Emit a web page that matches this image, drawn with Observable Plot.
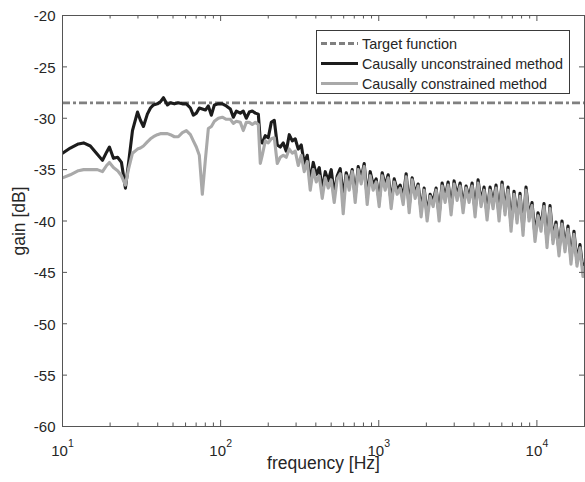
<!DOCTYPE html>
<html><head><meta charset="utf-8">
<script src="https://cdn.jsdelivr.net/npm/d3@7"></script>
<script src="https://cdn.jsdelivr.net/npm/@observablehq/plot@0.6"></script>
<style>
body{margin:0;background:#fff;}
#wrap{position:relative;width:585px;height:482px;font-family:"Liberation Sans",Arial,Helvetica,sans-serif;}
#wrap svg.overlay{position:absolute;left:0;top:0;pointer-events:none;}
</style></head>
<body><div id="wrap"></div>
<script>
const freq = [10, 11.2, 12.6, 13.6, 15.0, 16.6, 17.9, 19.0, 19.8, 21.0, 22.3, 23.6, 25.0, 26.1, 27.7, 29.8, 31.1, 32.5, 34.4, 36.0,
  37.6, 39.8, 41.6, 43.5, 46.1, 48.1, 51.0, 54.0, 57.3, 60.7, 64.4, 67.2, 70.2, 73.3, 76.6, 80.1, 83.6, 87.4, 91.3, 96.7,
  102.5, 108.6, 115.2, 120.3, 125.7, 133.2, 139.1, 145.3, 151.8, 158.6, 165.7, 173.1, 178.2, 183.4, 191.6, 200.1, 209.1, 218.4, 228.1, 238.3,
  248.9, 260.0, 271.6, 283.8, 296.4, 309.6,
  323.5, 337.9, 353.0, 368.7, 385.2, 402.4, 420.3, 439.1, 458.7, 479.1, 500.5, 522.8, 546.1, 570.5, 595.9, 622.5, 650.3, 679.3, 709.6, 741.2,
  774.3, 808.8, 844.9, 882.6, 921.9, 963.0, 1006, 1051, 1098, 1147, 1198, 1252, 1307, 1366, 1427, 1490, 1557, 1626, 1699, 1774,
  1853, 1936, 2022, 2113, 2207, 2305, 2408, 2516, 2628, 2745, 2867, 2995, 3129, 3268, 3414, 3566, 3725, 3892, 4065, 4247,
  4436, 4634, 4840, 5056, 5282, 5517, 5764, 6021, 6289, 6570, 6863, 7169, 7489, 7823, 8172, 8536, 8917, 9315, 9730, 10164,
  10617, 11091, 11586, 12103, 12643, 13207, 13796, 14411, 15054, 15726, 16427, 17160, 17926, 18725, 19560, 20000];

const gainUnconstrained = [-33.4, -32.9, -32.5, -32.4, -32.7, -33.5, -34.1, -33.3, -32.8, -33.9, -33.8, -34.3, -36.8, -34.5, -31.2, -29.4, -30.2, -30.8, -29.6, -29.0,
  -28.7, -28.6, -28.4, -28.0, -28.7, -28.5, -28.6, -28.5, -28.6, -28.6, -29.0, -29.7, -29.5, -29.0, -29.1, -29.2, -28.8, -29.7, -28.7, -28.6,
  -28.6, -28.8, -29.1, -29.9, -29.3, -29.5, -29.3, -30.0, -29.4, -29.3, -29.5, -29.6, -32.2, -32.4, -31.7, -31.9, -30.4, -30.2, -32.6, -32.8,
  -32.4, -33.2, -31.6, -32.2, -32.0, -33.0,
  -32.6, -34.4, -33.6, -36.2, -34.3, -35.5, -34.8, -37.0, -35.2, -36.1,
  -35.0, -37.4, -35.6, -34.9, -37.8, -35.3, -36.4, -35.0, -37.6, -34.7,
  -35.9, -34.4, -37.7, -35.2, -36.5, -35.9, -38.0, -35.3, -36.6, -35.5,
  -38.2, -35.9, -37.0, -36.5, -37.8, -35.4, -38.6, -35.8, -37.4, -36.4,
  -39.0, -36.8, -39.4, -37.4, -38.1, -36.8, -39.4, -36.3, -37.8, -36.2,
  -38.8, -36.1, -37.6, -36.3, -38.6, -36.6, -37.8, -36.3, -39.0, -36.0,
  -38.2, -36.7, -39.3, -36.7, -38.4, -36.5, -39.4, -36.2, -39.0, -36.7,
  -40.4, -37.1, -39.8, -37.3, -40.8, -36.7, -39.6, -38.2, -41.4, -39.2,
  -40.6, -38.3, -42.0, -38.5, -41.8, -40.1, -42.9, -40.0, -42.6, -40.5,
  -43.7, -41.0, -44.0, -42.3, -44.8, -44.2];

const gainConstrained = [-35.8, -35.5, -35.1, -35.0, -35.0, -35.0, -35.2, -34.6, -34.3, -34.8, -35.1, -35.6, -36.5, -35.0, -33.4, -33.0, -32.9, -32.7, -32.3, -32.0,
  -31.8, -31.6, -31.5, -31.5, -31.5, -31.6, -31.8, -31.8, -31.4, -31.2, -31.6, -32.2, -32.8, -33.6, -37.4, -34.0, -31.0, -30.8, -30.3, -30.0,
  -29.9, -30.1, -30.1, -30.5, -30.3, -30.4, -31.2, -30.4, -30.4, -30.6, -30.4, -30.6, -34.4, -33.6, -32.2, -32.4, -32.0, -31.9, -34.4, -33.8,
  -33.6, -33.8, -33.0, -33.4, -33.2, -34.6,
  -33.6, -35.2, -34.2, -37.0, -35.0, -36.2, -35.6, -37.8, -35.8, -36.8,
  -36.0, -38.2, -35.9, -35.4, -39.3, -35.6, -37.0, -35.2, -38.2, -35.0,
  -36.4, -34.7, -38.4, -35.6, -37.0, -36.2, -38.6, -35.6, -37.0, -35.8,
  -38.8, -36.2, -37.4, -36.8, -38.4, -35.7, -39.2, -36.0, -37.8, -36.6,
  -39.6, -37.0, -40.0, -37.6, -38.6, -37.0, -40.0, -36.6, -38.2, -36.5,
  -39.4, -36.4, -38.0, -36.6, -39.2, -36.8, -38.2, -36.6, -39.6, -36.3,
  -38.6, -37.0, -39.9, -37.0, -38.8, -36.8, -40.0, -36.5, -39.4, -37.0,
  -41.0, -37.4, -40.2, -37.6, -41.4, -37.0, -40.0, -38.5, -42.0, -39.5,
  -41.0, -38.6, -42.6, -38.8, -42.2, -40.4, -43.4, -40.3, -43.0, -40.8,
  -44.2, -41.3, -44.4, -42.6, -45.4, -44.5];

const targetGain = -28.5;
const yTicks = [-60, -55, -50, -45, -40, -35, -30, -25, -20];
const xMajor = [10, 100, 1000, 10000];
const xExponents = ["1", "2", "3", "4"];
const xMinor = [20, 30, 40, 50, 60, 70, 80, 90, 200, 300, 400, 500, 600, 700, 800, 900,
  2000, 3000, 4000, 5000, 6000, 7000, 8000, 9000];
const legendLabels = ["Target function", "Causally unconstrained method", "Causally constrained method"];

const colTarget = "#808080", colU = "#1c1c1c", colC = "#a9a9a9", axisCol = "#555555", textCol = "#262626";
const font = '"Liberation Sans", Arial, Helvetica, sans-serif';

const rowsU = freq.map((f, i) => ({f, g: gainUnconstrained[i]}));
const rowsC = freq.map((f, i) => ({f, g: gainConstrained[i]}));
const majors = xMajor.map((v, i) => ({v, e: xExponents[i]}));

const mL = 62, mR = 1, mT = 15, mB = 56, W = 585, H = 482;
const dbPerPx = 40 / (H - mT - mB);
const xFactor = (px) => Math.pow(20000 / 10, px / (W - mL - mR));

const chart = Plot.plot({
  width: W, height: H,
  marginLeft: mL, marginRight: mR, marginTop: mT, marginBottom: mB,
  x: {type: "log", domain: [10, 20000], axis: null},
  y: {domain: [-60, -20], axis: null},
  style: {fontFamily: font, background: "white", color: textCol, overflow: "visible"},
  marks: [
    Plot.ruleY([targetGain], {y: d => d, stroke: colTarget, strokeWidth: 2.6, strokeDasharray: "8,3,3,3"}),
    Plot.line(rowsU, {x: "f", y: "g", stroke: colU, strokeWidth: 3.1, strokeLinejoin: "round", clip: true}),
    Plot.line(rowsC, {x: "f", y: "g", stroke: colC, strokeWidth: 3.1, strokeLinejoin: "round", clip: true}),
    Plot.frame({stroke: axisCol, strokeWidth: 1}),
    Plot.ruleX(xMajor, {x: d => d, y1: -60, y2: -60 + 6 * dbPerPx, stroke: axisCol}),
    Plot.ruleX(xMajor, {x: d => d, y1: -20, y2: -20 - 6 * dbPerPx, stroke: axisCol}),
    Plot.ruleX(xMinor, {x: d => d, y1: -60, y2: -60 + 3.5 * dbPerPx, stroke: axisCol}),
    Plot.ruleX(xMinor, {x: d => d, y1: -20, y2: -20 - 3.5 * dbPerPx, stroke: axisCol}),
    Plot.ruleY(yTicks, {y: d => d, x1: 10, x2: 10 * xFactor(5), stroke: axisCol}),
    Plot.ruleY(yTicks, {y: d => d, x1: 20000 / xFactor(5), x2: 20000, stroke: axisCol}),
    Plot.text(yTicks, {x: 10, y: d => d, text: d => String(d), textAnchor: "end", dx: -7, dy: 1, fontSize: 15, fill: textCol}),
    Plot.text(majors, {x: "v", y: -60, text: () => "10", textAnchor: "middle", dx: -3, dy: 24.5, fontSize: 15, fill: textCol}),
    Plot.text(majors, {x: "v", y: -60, text: "e", textAnchor: "start", dx: 5.5, dy: 17, fontSize: 10.5, fill: textCol}),
    Plot.text(["frequency [Hz]"], {text: d => d, frameAnchor: "bottom", lineAnchor: "middle", textAnchor: "middle", dy: 37, fontSize: 17.5, fill: textCol}),
    Plot.text(["gain [dB]"], {text: d => d, frameAnchor: "left", lineAnchor: "middle", textAnchor: "middle", dx: -43, rotate: -90, fontSize: 17.5, fill: textCol})
  ]
});

const wrap = document.getElementById("wrap");
wrap.appendChild(chart);

// legend overlay
const lg = d3.select(wrap).append("svg").attr("class", "overlay").attr("width", W).attr("height", H);
const box = {x: 316.5, y: 30.5, w: 253, h: 63};
lg.append("rect").attr("x", box.x).attr("y", box.y).attr("width", box.w).attr("height", box.h)
  .attr("fill", "white").attr("stroke", "#3a3a3a").attr("stroke-width", 1);
const legendStyles = [
  {stroke: colTarget, dash: "6,3", len: 95},
  {stroke: colU, dash: null, len: 201},
  {stroke: colC, dash: null, len: 185}
];
legendLabels.forEach((lab, i) => {
  const cy = 43.5 + i * 20;
  const ln = lg.append("line").attr("x1", 321).attr("x2", 358).attr("y1", cy).attr("y2", cy)
    .attr("stroke", legendStyles[i].stroke).attr("stroke-width", 2.8);
  if (legendStyles[i].dash) ln.attr("stroke-dasharray", legendStyles[i].dash);
  lg.append("text").attr("x", 362).attr("y", cy).attr("dy", "0.35em")
    .attr("font-family", font).attr("font-size", 15).attr("fill", textCol)
    .attr("textLength", legendStyles[i].len).attr("lengthAdjust", "spacingAndGlyphs").text(lab);
});
</script>
</body></html>
